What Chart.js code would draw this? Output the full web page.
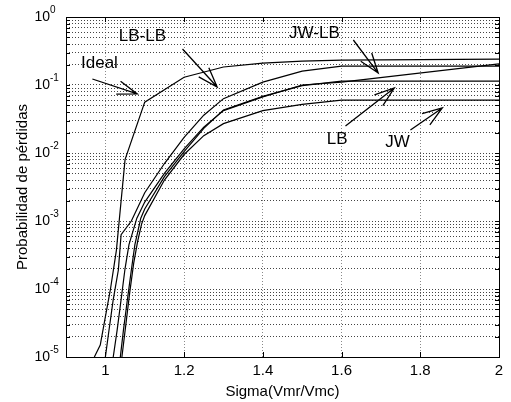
<!DOCTYPE html>
<html><head><meta charset="utf-8">
<script src="https://cdn.jsdelivr.net/npm/chart.js@4"></script>
<style>html,body{margin:0;padding:0;background:#fff}</style>
</head><body>
<canvas id="c" width="511" height="402"></canvas>
<script>
// ---- data ----
const seriesNames = ['Ideal', 'LB-LB', 'JW-LB', 'LB', 'JW'];
const idealX = [0.972, 0.987, 1.0, 1.013, 1.028, 1.05, 1.1, 1.2, 1.3, 1.4, 1.5, 1.6, 1.8, 2.0];
const idealY = [1e-5, 1.5e-5, 3.9e-5, 1e-4, 3.7e-4, 0.008, 0.056, 0.13, 0.184, 0.21, 0.225, 0.232, 0.236, 0.24];
const lblbX = [1.0, 1.008, 1.02, 1.033, 1.04, 1.066, 1.1, 1.15, 1.2, 1.25, 1.3, 1.4, 1.5, 1.6, 2.0];
const lblbY = [1e-5, 2.2e-5, 7e-5, 1.9e-4, 6.3e-4, 1.0e-3, 2.6e-3, 7e-3, 0.017, 0.036, 0.063, 0.11, 0.16, 0.19, 0.19];
const jwlbX = [1.02, 1.03, 1.04, 1.05, 1.06, 1.08, 1.1, 1.15, 1.2, 1.25, 1.3, 1.4, 1.5, 1.6, 2.0];
const jwlbY = [1e-5, 2.5e-5, 7e-5, 2e-4, 4.5e-4, 1.1e-3, 1.9e-3, 5e-3, 0.0115, 0.024, 0.042, 0.067, 0.1, 0.11, 0.204];
const lbX = [1.038, 1.046, 1.056, 1.066, 1.075, 1.09, 1.1, 1.15, 1.2, 1.25, 1.3, 1.4, 1.5, 1.6, 2.0];
const lbY = [1e-5, 2.5e-5, 7e-5, 1.9e-4, 4.5e-4, 1.1e-3, 1.5e-3, 4.5e-3, 0.0105, 0.023, 0.043, 0.068, 0.098, 0.114, 0.114];
const jwX = [1.042, 1.052, 1.062, 1.072, 1.082, 1.092, 1.1, 1.15, 1.2, 1.25, 1.3, 1.4, 1.5, 1.6, 2.0];
const jwY = [1e-5, 3e-5, 9e-5, 2.4e-4, 5e-4, 9e-4, 1.2e-3, 4e-3, 0.0095, 0.018, 0.027, 0.042, 0.052, 0.06, 0.06];

const xTicks = [1, 1.2, 1.4, 1.6, 1.8, 2];
const xTickLabels = ['1', '1.2', '1.4', '1.6', '1.8', '2'];
const yDecadeExps = [-5, -4, -3, -2, -1, 0];
const yMinorMult = [1, 2, 3, 4, 5, 6, 7, 8, 9];

// annotation labels & arrows (data coordinates)
const annotTexts = ['Ideal', 'LB-LB', 'JW-LB', 'LB', 'JW'];
const annotTextX = [0.985, 1.094, 1.531, 1.589, 1.742];
const annotTextY = [0.211, 0.526, 0.582, 0.0161, 0.0145];
const arrowFromX = [0.967, 1.196, 1.630, 1.610, 1.775];
const arrowFromY = [0.1225, 0.338, 0.459, 0.0249, 0.0218];
const arrowToX = [1.081, 1.284, 1.693, 1.734, 1.856];
const arrowToY = [0.0738, 0.0935, 0.150, 0.0904, 0.0459];

const FONT = "'Liberation Sans', Arial, sans-serif";
const pts = (xs, ys) => xs.map((x, i) => ({x: x, y: ys[i]}));
const seriesData = [pts(idealX, idealY), pts(lblbX, lblbY), pts(jwlbX, jwlbY), pts(lbX, lbY), pts(jwX, jwY)];

const overlay = {
  id: 'overlay',
  afterDraw(chart) {
    const ctx = chart.ctx, a = chart.chartArea;
    const xs = chart.scales.x, ys = chart.scales.y;
    ctx.save();
    // box
    ctx.strokeStyle = '#000'; ctx.lineWidth = 1; ctx.setLineDash([]);
    ctx.strokeRect(Math.round(a.left) + 0.5, Math.round(a.top) + 0.5, Math.round(a.right - a.left), Math.round(a.bottom - a.top));
    // inward ticks
    ctx.beginPath();
    ys.ticks.forEach(t => {
      const y = Math.round(ys.getPixelForValue(t.value)) + 0.5;
      ctx.moveTo(a.left, y); ctx.lineTo(a.left + 4, y);
      ctx.moveTo(a.right, y); ctx.lineTo(a.right - 4, y);
    });
    xs.ticks.forEach(t => {
      const x = Math.round(xs.getPixelForValue(t.value)) + 0.5;
      ctx.moveTo(x, a.bottom); ctx.lineTo(x, a.bottom - 5);
      ctx.moveTo(x, a.top); ctx.lineTo(x, a.top + 5);
    });
    ctx.stroke();
    // y tick labels 10^n
    ctx.fillStyle = '#000';
    yDecadeExps.forEach(e => {
      const y = ys.getPixelForValue(Math.pow(10, e));
      ctx.font = '14px ' + FONT;
      ctx.textAlign = 'right'; ctx.textBaseline = 'middle';
      ctx.fillText('10', 50, y);
      ctx.font = '10px ' + FONT;
      ctx.textAlign = 'left';
      ctx.fillText(String(e), 50, y - 7);
    });
    // annotations
    ctx.font = '17px ' + FONT;
    ctx.textAlign = 'center'; ctx.textBaseline = 'middle';
    annotTexts.forEach((t, i) => {
      ctx.fillText(t, xs.getPixelForValue(annotTextX[i]), ys.getPixelForValue(annotTextY[i]));
    });
    ctx.lineWidth = 1.3;
    annotTexts.forEach((t, i) => {
      const x1 = xs.getPixelForValue(arrowFromX[i]), y1 = ys.getPixelForValue(arrowFromY[i]);
      const x2 = xs.getPixelForValue(arrowToX[i]), y2 = ys.getPixelForValue(arrowToY[i]);
      const ang = Math.atan2(y1 - y2, x1 - x2);
      const L = 21, da = 19 * Math.PI / 180;
      ctx.beginPath();
      ctx.moveTo(x1, y1); ctx.lineTo(x2, y2);
      ctx.moveTo(x2 + L * Math.cos(ang + da), y2 + L * Math.sin(ang + da));
      ctx.lineTo(x2, y2);
      ctx.lineTo(x2 + L * Math.cos(ang - da), y2 + L * Math.sin(ang - da));
      ctx.stroke();
    });
    ctx.restore();
  }
};

new Chart(document.getElementById('c'), {
  type: 'line',
  data: {
    datasets: seriesNames.map((n, i) => ({
      label: n, data: seriesData[i], borderColor: '#000', borderWidth: 1.2,
      pointRadius: 0, tension: 0, fill: false
    }))
  },
  options: {
    responsive: false, animation: false,
    layout: {padding: {left: 0, right: 12, top: 17, bottom: 0}},
    plugins: {legend: {display: false}, tooltip: {enabled: false}},
    scales: {
      x: {
        type: 'linear', min: 0.9, max: 2,
        afterBuildTicks: s => { s.ticks = xTicks.map(v => ({value: v})); },
        afterFit: s => { s.height = 45; },
        ticks: {
          autoSkip: false, maxRotation: 0, padding: 5, color: '#000',
          font: {family: FONT, size: 15},
          callback: (v, i) => xTickLabels[i]
        },
        grid: {color: '#8a8a8a', lineWidth: 1, drawTicks: false},
        border: {display: false, dash: [1, 2]},
        title: {display: true, text: 'Sigma(Vmr/Vmc)', color: '#000', font: {family: FONT, size: 15}, padding: {top: 0, bottom: 1}}
      },
      y: {
        type: 'logarithmic', min: 1e-5, max: 1,
        afterBuildTicks: s => {
          const t = [];
          yDecadeExps.forEach(e => yMinorMult.forEach(m => { const v = m * Math.pow(10, e); if (v <= 1.0000001) t.push({value: v, major: m === 1}); }));
          s.ticks = t;
        },
        afterFit: s => { s.width = 66; },
        ticks: {display: false},
        grid: {color: '#444', lineWidth: 1, drawTicks: false},
        border: {display: false, dash: [1, 2]},
        title: {display: true, text: 'Probabilidad de pérdidas', color: '#000', font: {family: FONT, size: 15}, padding: {top: 14, bottom: 0}}
      }
    }
  },
  plugins: [overlay]
});
</script>
</body></html>
